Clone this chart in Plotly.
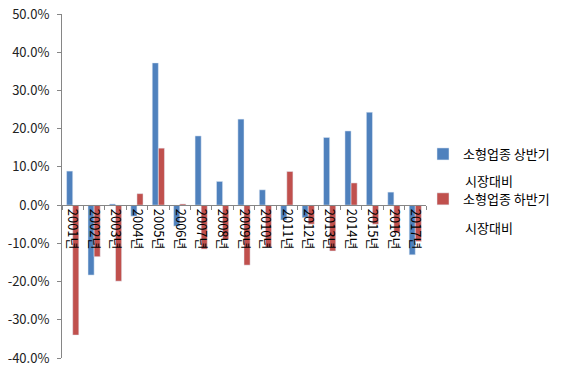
import plotly.graph_objects as go

years = ["2001년", "2002년", "2003년", "2004년", "2005년", "2006년", "2007년", "2008년", "2009년",
         "2010년", "2011년", "2012년", "2013년", "2014년", "2015년", "2016년", "2017년"]
first_half = [8.9, -18.3, 0.3, -2.9, 37.2, -5.5, 18.1, 6.2, 22.5, 4.0, -3.9, -3.3, 17.7, 19.4, 24.3, 3.4, -13.0]
second_half = [-34.0, -13.5, -19.9, 3.0, 14.9, 0.3, -11.5, -9.0, -15.7, -11.0, 8.8, -5.0, -12.0, 5.8, -5.0, -7.3, -9.5]
series_names = ["소형업종 상반기", "소형업종 하반기"]
name_suffix = "시장대비"
y_ticks = [-40, -30, -20, -10, 0, 10, 20, 30, 40, 50]
y_ticktext = [f"{v:.1f}%" for v in y_ticks]

FONT = "Noto Sans CJK KR"
W, H = 580, 372
ML, MR, MT, MB = 62, 154, 14, 14
plot_w = W - ML - MR
plot_h = H - MT - MB

fig = go.Figure()
fig.add_trace(go.Bar(x=years, y=first_half, name=series_names[0], marker_color="#4F81BD",
                     legendgroup="a"))
fig.add_trace(go.Bar(x=years, y=second_half, name=series_names[1], marker_color="#C0504D",
                     legendgroup="b"))

legend_left_px = 423
legend_top_px = 139
text_x_px = legend_left_px + 40
for ypx in (180, 227):
    fig.add_annotation(
        x=(text_x_px - ML) / plot_w, y=(H - MB - ypx) / plot_h,
        xref="paper", yref="paper", xanchor="left", yanchor="middle",
        text=name_suffix, showarrow=False,
        font=dict(family=FONT, size=13, color="#000000"),
    )

ymin, ymax = -40, 50
fig.update_layout(
    width=W, height=H,
    margin=dict(l=ML, r=MR, t=MT, b=MB, autoexpand=False),
    paper_bgcolor="white", plot_bgcolor="white",
    barmode="group", bargap=0.43, bargroupgap=0,
    font=dict(family=FONT, size=13, color="#000000"),
    showlegend=True,
    legend=dict(
        xref="paper", yref="paper",
        x=(legend_left_px - ML) / plot_w, y=(H - MB - legend_top_px) / plot_h,
        xanchor="left", yanchor="top",
        font=dict(family=FONT, size=13, color="#000000"),
        itemwidth=30, tracegroupgap=25,
        bgcolor="rgba(0,0,0,0)",
    ),
    xaxis=dict(
        type="category",
        anchor="free", position=(0 - ymin) / (ymax - ymin),
        showline=True, linecolor="#868686", linewidth=1,
        ticks="outside", tickson="boundaries", ticklen=4, tickcolor="#868686",
        tickangle=90, tickfont=dict(family=FONT, size=13, color="#000000"),
        showgrid=False, zeroline=False,
    ),
    yaxis=dict(
        range=[ymin, ymax], tickvals=y_ticks, ticktext=y_ticktext,
        showline=True, linecolor="#868686", linewidth=1,
        ticks="outside", ticklen=4, tickcolor="#868686", ticklabelstandoff=5,
        ticklabeloverflow="allow",
        tickfont=dict(family=FONT, size=13, color="#222222"),
        showgrid=False, zeroline=False,
    ),
)

# remove the browser's default 8px body margin so the figure sits at the window's corner
fig.write_html("out.html", config={"displayModeBar": False},
               post_script="document.body.style.margin='0';")
